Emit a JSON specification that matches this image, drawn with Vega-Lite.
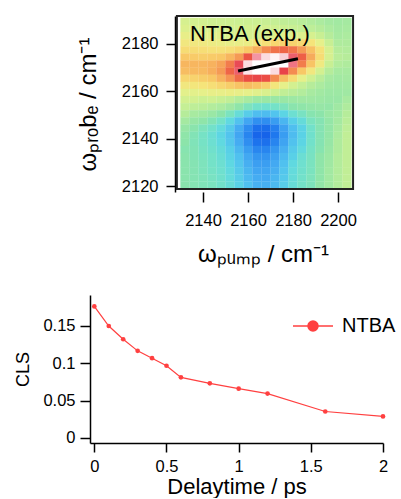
{
"$schema": "https://vega.github.io/schema/vega-lite/v6.json",
"background": "white",
"padding": {"left": 14, "top": 15, "right": 0, "bottom": 0},
"spacing": 28,
"config": {
  "font": "Liberation Sans",
  "view": {"stroke": null},
  "axis": {"grid": false, "labelColor": "black", "titleColor": "black", "tickColor": "black", "domainColor": "black", "labelFont": "Liberation Sans", "titleFont": "Liberation Sans", "titleFontWeight": "normal", "labelFontSize": 16.5, "tickWidth": 1.5, "domainWidth": 1.5, "labelFlush": false}
},
"resolve": {"scale": {"color": "independent"}, "legend": {"color": "independent"}},
"vconcat": [
{
  "width": 265, "height": 176,
  "layer": [
    {
      "data": {"values": [
{"x":2132,"y":2189.5,"z":0.23},{"x":2136,"y":2189.5,"z":0.22},{"x":2140,"y":2189.5,"z":0.22},{"x":2144,"y":2189.5,"z":0.21},{"x":2148,"y":2189.5,"z":0.21},{"x":2152,"y":2189.5,"z":0.21},{"x":2156,"y":2189.5,"z":0.2},{"x":2160,"y":2189.5,"z":0.2},{"x":2164,"y":2189.5,"z":0.2},{"x":2168,"y":2189.5,"z":0.19},{"x":2172,"y":2189.5,"z":0.18},{"x":2176,"y":2189.5,"z":0.17},{"x":2180,"y":2189.5,"z":0.16},{"x":2184,"y":2189.5,"z":0.15},{"x":2188,"y":2189.5,"z":0.13},{"x":2192,"y":2189.5,"z":0.11},{"x":2196,"y":2189.5,"z":0.09},{"x":2200,"y":2189.5,"z":0.08},{"x":2204,"y":2189.5,"z":0.09},
{"x":2132,"y":2186.5,"z":0.25},{"x":2136,"y":2186.5,"z":0.25},{"x":2140,"y":2186.5,"z":0.25},{"x":2144,"y":2186.5,"z":0.24},{"x":2148,"y":2186.5,"z":0.24},{"x":2152,"y":2186.5,"z":0.23},{"x":2156,"y":2186.5,"z":0.22},{"x":2160,"y":2186.5,"z":0.22},{"x":2164,"y":2186.5,"z":0.22},{"x":2168,"y":2186.5,"z":0.22},{"x":2172,"y":2186.5,"z":0.21},{"x":2176,"y":2186.5,"z":0.2},{"x":2180,"y":2186.5,"z":0.19},{"x":2184,"y":2186.5,"z":0.18},{"x":2188,"y":2186.5,"z":0.16},{"x":2192,"y":2186.5,"z":0.14},{"x":2196,"y":2186.5,"z":0.11},{"x":2200,"y":2186.5,"z":0.09},{"x":2204,"y":2186.5,"z":0.1},
{"x":2132,"y":2183.5,"z":0.29},{"x":2136,"y":2183.5,"z":0.29},{"x":2140,"y":2183.5,"z":0.28},{"x":2144,"y":2183.5,"z":0.27},{"x":2148,"y":2183.5,"z":0.26},{"x":2152,"y":2183.5,"z":0.24},{"x":2156,"y":2183.5,"z":0.23},{"x":2160,"y":2183.5,"z":0.23},{"x":2164,"y":2183.5,"z":0.23},{"x":2168,"y":2183.5,"z":0.24},{"x":2172,"y":2183.5,"z":0.25},{"x":2176,"y":2183.5,"z":0.26},{"x":2180,"y":2183.5,"z":0.26},{"x":2184,"y":2183.5,"z":0.25},{"x":2188,"y":2183.5,"z":0.23},{"x":2192,"y":2183.5,"z":0.19},{"x":2196,"y":2183.5,"z":0.14},{"x":2200,"y":2183.5,"z":0.1},{"x":2204,"y":2183.5,"z":0.11},
{"x":2132,"y":2180.5,"z":0.33},{"x":2136,"y":2180.5,"z":0.33},{"x":2140,"y":2180.5,"z":0.32},{"x":2144,"y":2180.5,"z":0.31},{"x":2148,"y":2180.5,"z":0.3},{"x":2152,"y":2180.5,"z":0.29},{"x":2156,"y":2180.5,"z":0.29},{"x":2160,"y":2180.5,"z":0.3},{"x":2164,"y":2180.5,"z":0.33},{"x":2168,"y":2180.5,"z":0.36},{"x":2172,"y":2180.5,"z":0.4},{"x":2176,"y":2180.5,"z":0.41},{"x":2180,"y":2180.5,"z":0.41},{"x":2184,"y":2180.5,"z":0.39},{"x":2188,"y":2180.5,"z":0.35},{"x":2192,"y":2180.5,"z":0.28},{"x":2196,"y":2180.5,"z":0.19},{"x":2200,"y":2180.5,"z":0.12},{"x":2204,"y":2180.5,"z":0.12},
{"x":2132,"y":2177.5,"z":0.38},{"x":2136,"y":2177.5,"z":0.38},{"x":2140,"y":2177.5,"z":0.37},{"x":2144,"y":2177.5,"z":0.36},{"x":2148,"y":2177.5,"z":0.36},{"x":2152,"y":2177.5,"z":0.37},{"x":2156,"y":2177.5,"z":0.4},{"x":2160,"y":2177.5,"z":0.45},{"x":2164,"y":2177.5,"z":0.52},{"x":2168,"y":2177.5,"z":0.6},{"x":2172,"y":2177.5,"z":0.65},{"x":2176,"y":2177.5,"z":0.67},{"x":2180,"y":2177.5,"z":0.64},{"x":2184,"y":2177.5,"z":0.57},{"x":2188,"y":2177.5,"z":0.47},{"x":2192,"y":2177.5,"z":0.36},{"x":2196,"y":2177.5,"z":0.23},{"x":2200,"y":2177.5,"z":0.14},{"x":2204,"y":2177.5,"z":0.13},
{"x":2132,"y":2174.5,"z":0.45},{"x":2136,"y":2174.5,"z":0.44},{"x":2140,"y":2174.5,"z":0.43},{"x":2144,"y":2174.5,"z":0.44},{"x":2148,"y":2174.5,"z":0.45},{"x":2152,"y":2174.5,"z":0.5},{"x":2156,"y":2174.5,"z":0.57},{"x":2160,"y":2174.5,"z":0.7},{"x":2164,"y":2174.5,"z":0.85},{"x":2168,"y":2174.5,"z":0.91},{"x":2172,"y":2174.5,"z":0.93},{"x":2176,"y":2174.5,"z":0.9},{"x":2180,"y":2174.5,"z":0.8},{"x":2184,"y":2174.5,"z":0.68},{"x":2188,"y":2174.5,"z":0.53},{"x":2192,"y":2174.5,"z":0.38},{"x":2196,"y":2174.5,"z":0.23},{"x":2200,"y":2174.5,"z":0.15},{"x":2204,"y":2174.5,"z":0.14},
{"x":2132,"y":2171.5,"z":0.5},{"x":2136,"y":2171.5,"z":0.5},{"x":2140,"y":2171.5,"z":0.5},{"x":2144,"y":2171.5,"z":0.51},{"x":2148,"y":2171.5,"z":0.55},{"x":2152,"y":2171.5,"z":0.63},{"x":2156,"y":2171.5,"z":0.78},{"x":2160,"y":2171.5,"z":0.91},{"x":2164,"y":2171.5,"z":1},{"x":2168,"y":2171.5,"z":1},{"x":2172,"y":2171.5,"z":1},{"x":2176,"y":2171.5,"z":0.96},{"x":2180,"y":2171.5,"z":0.82},{"x":2184,"y":2171.5,"z":0.63},{"x":2188,"y":2171.5,"z":0.46},{"x":2192,"y":2171.5,"z":0.32},{"x":2196,"y":2171.5,"z":0.19},{"x":2200,"y":2171.5,"z":0.13},{"x":2204,"y":2171.5,"z":0.12},
{"x":2132,"y":2168.5,"z":0.48},{"x":2136,"y":2168.5,"z":0.49},{"x":2140,"y":2168.5,"z":0.49},{"x":2144,"y":2168.5,"z":0.52},{"x":2148,"y":2168.5,"z":0.57},{"x":2152,"y":2168.5,"z":0.67},{"x":2156,"y":2168.5,"z":0.8},{"x":2160,"y":2168.5,"z":0.92},{"x":2164,"y":2168.5,"z":0.99},{"x":2168,"y":2168.5,"z":0.99},{"x":2172,"y":2168.5,"z":0.91},{"x":2176,"y":2168.5,"z":0.76},{"x":2180,"y":2168.5,"z":0.6},{"x":2184,"y":2168.5,"z":0.45},{"x":2188,"y":2168.5,"z":0.33},{"x":2192,"y":2168.5,"z":0.22},{"x":2196,"y":2168.5,"z":0.14},{"x":2200,"y":2168.5,"z":0.1},{"x":2204,"y":2168.5,"z":0.1},
{"x":2132,"y":2165.5,"z":0.4},{"x":2136,"y":2165.5,"z":0.41},{"x":2140,"y":2165.5,"z":0.43},{"x":2144,"y":2165.5,"z":0.45},{"x":2148,"y":2165.5,"z":0.51},{"x":2152,"y":2165.5,"z":0.58},{"x":2156,"y":2165.5,"z":0.66},{"x":2160,"y":2165.5,"z":0.72},{"x":2164,"y":2165.5,"z":0.75},{"x":2168,"y":2165.5,"z":0.72},{"x":2172,"y":2165.5,"z":0.6},{"x":2176,"y":2165.5,"z":0.48},{"x":2180,"y":2165.5,"z":0.38},{"x":2184,"y":2165.5,"z":0.28},{"x":2188,"y":2165.5,"z":0.21},{"x":2192,"y":2165.5,"z":0.15},{"x":2196,"y":2165.5,"z":0.1},{"x":2200,"y":2165.5,"z":0.08},{"x":2204,"y":2165.5,"z":0.09},
{"x":2132,"y":2162.5,"z":0.33},{"x":2136,"y":2162.5,"z":0.34},{"x":2140,"y":2162.5,"z":0.35},{"x":2144,"y":2162.5,"z":0.37},{"x":2148,"y":2162.5,"z":0.4},{"x":2152,"y":2162.5,"z":0.43},{"x":2156,"y":2162.5,"z":0.46},{"x":2160,"y":2162.5,"z":0.48},{"x":2164,"y":2162.5,"z":0.46},{"x":2168,"y":2162.5,"z":0.42},{"x":2172,"y":2162.5,"z":0.34},{"x":2176,"y":2162.5,"z":0.28},{"x":2180,"y":2162.5,"z":0.22},{"x":2184,"y":2162.5,"z":0.18},{"x":2188,"y":2162.5,"z":0.14},{"x":2192,"y":2162.5,"z":0.11},{"x":2196,"y":2162.5,"z":0.08},{"x":2200,"y":2162.5,"z":0.07},{"x":2204,"y":2162.5,"z":0.08},
{"x":2132,"y":2159.5,"z":0.27},{"x":2136,"y":2159.5,"z":0.27},{"x":2140,"y":2159.5,"z":0.28},{"x":2144,"y":2159.5,"z":0.29},{"x":2148,"y":2159.5,"z":0.29},{"x":2152,"y":2159.5,"z":0.3},{"x":2156,"y":2159.5,"z":0.29},{"x":2160,"y":2159.5,"z":0.28},{"x":2164,"y":2159.5,"z":0.26},{"x":2168,"y":2159.5,"z":0.24},{"x":2172,"y":2159.5,"z":0.2},{"x":2176,"y":2159.5,"z":0.17},{"x":2180,"y":2159.5,"z":0.15},{"x":2184,"y":2159.5,"z":0.13},{"x":2188,"y":2159.5,"z":0.1},{"x":2192,"y":2159.5,"z":0.08},{"x":2196,"y":2159.5,"z":0.06},{"x":2200,"y":2159.5,"z":0.06},{"x":2204,"y":2159.5,"z":0.07},
{"x":2132,"y":2156.5,"z":0.22},{"x":2136,"y":2156.5,"z":0.22},{"x":2140,"y":2156.5,"z":0.2},{"x":2144,"y":2156.5,"z":0.21},{"x":2148,"y":2156.5,"z":0.19},{"x":2152,"y":2156.5,"z":0.17},{"x":2156,"y":2156.5,"z":0.13},{"x":2160,"y":2156.5,"z":0.1},{"x":2164,"y":2156.5,"z":0.06},{"x":2168,"y":2156.5,"z":0.05},{"x":2172,"y":2156.5,"z":0.05},{"x":2176,"y":2156.5,"z":0.05},{"x":2180,"y":2156.5,"z":0.06},{"x":2184,"y":2156.5,"z":0.07},{"x":2188,"y":2156.5,"z":0.07},{"x":2192,"y":2156.5,"z":0.06},{"x":2196,"y":2156.5,"z":0.05},{"x":2200,"y":2156.5,"z":0.05},{"x":2204,"y":2156.5,"z":0.1},
{"x":2132,"y":2153.5,"z":0.18},{"x":2136,"y":2153.5,"z":0.16},{"x":2140,"y":2153.5,"z":0.15},{"x":2144,"y":2153.5,"z":0.13},{"x":2148,"y":2153.5,"z":0.11},{"x":2152,"y":2153.5,"z":0.07},{"x":2156,"y":2153.5,"z":0.01},{"x":2160,"y":2153.5,"z":-0.06},{"x":2164,"y":2153.5,"z":-0.11},{"x":2168,"y":2153.5,"z":-0.13},{"x":2172,"y":2153.5,"z":-0.1},{"x":2176,"y":2153.5,"z":-0.06},{"x":2180,"y":2153.5,"z":-0.01},{"x":2184,"y":2153.5,"z":0.01},{"x":2188,"y":2153.5,"z":0.03},{"x":2192,"y":2153.5,"z":0.04},{"x":2196,"y":2153.5,"z":0.03},{"x":2200,"y":2153.5,"z":0.07},{"x":2204,"y":2153.5,"z":0.12},
{"x":2132,"y":2150.5,"z":0.14},{"x":2136,"y":2150.5,"z":0.1},{"x":2140,"y":2150.5,"z":0.08},{"x":2144,"y":2150.5,"z":0.05},{"x":2148,"y":2150.5,"z":0},{"x":2152,"y":2150.5,"z":-0.07},{"x":2156,"y":2150.5,"z":-0.17},{"x":2160,"y":2150.5,"z":-0.29},{"x":2164,"y":2150.5,"z":-0.39},{"x":2168,"y":2150.5,"z":-0.4},{"x":2172,"y":2150.5,"z":-0.35},{"x":2176,"y":2150.5,"z":-0.24},{"x":2180,"y":2150.5,"z":-0.14},{"x":2184,"y":2150.5,"z":-0.08},{"x":2188,"y":2150.5,"z":-0.02},{"x":2192,"y":2150.5,"z":0},{"x":2196,"y":2150.5,"z":0.05},{"x":2200,"y":2150.5,"z":0.08},{"x":2204,"y":2150.5,"z":0.14},
{"x":2132,"y":2147.5,"z":0.09},{"x":2136,"y":2147.5,"z":0.04},{"x":2140,"y":2147.5,"z":0.01},{"x":2144,"y":2147.5,"z":-0.04},{"x":2148,"y":2147.5,"z":-0.1},{"x":2152,"y":2147.5,"z":-0.21},{"x":2156,"y":2147.5,"z":-0.36},{"x":2160,"y":2147.5,"z":-0.54},{"x":2164,"y":2147.5,"z":-0.7},{"x":2168,"y":2147.5,"z":-0.71},{"x":2172,"y":2147.5,"z":-0.61},{"x":2176,"y":2147.5,"z":-0.44},{"x":2180,"y":2147.5,"z":-0.28},{"x":2184,"y":2147.5,"z":-0.18},{"x":2188,"y":2147.5,"z":-0.07},{"x":2192,"y":2147.5,"z":-0.03},{"x":2196,"y":2147.5,"z":0.03},{"x":2200,"y":2147.5,"z":0.09},{"x":2204,"y":2147.5,"z":0.15},
{"x":2132,"y":2144.5,"z":0.04},{"x":2136,"y":2144.5,"z":-0.01},{"x":2140,"y":2144.5,"z":-0.06},{"x":2144,"y":2144.5,"z":-0.11},{"x":2148,"y":2144.5,"z":-0.19},{"x":2152,"y":2144.5,"z":-0.31},{"x":2156,"y":2144.5,"z":-0.5},{"x":2160,"y":2144.5,"z":-0.72},{"x":2164,"y":2144.5,"z":-0.9},{"x":2168,"y":2144.5,"z":-0.92},{"x":2172,"y":2144.5,"z":-0.8},{"x":2176,"y":2144.5,"z":-0.57},{"x":2180,"y":2144.5,"z":-0.38},{"x":2184,"y":2144.5,"z":-0.25},{"x":2188,"y":2144.5,"z":-0.11},{"x":2192,"y":2144.5,"z":-0.03},{"x":2196,"y":2144.5,"z":0.03},{"x":2200,"y":2144.5,"z":0.1},{"x":2204,"y":2144.5,"z":0.16},
{"x":2132,"y":2141.5,"z":0.01},{"x":2136,"y":2141.5,"z":-0.04},{"x":2140,"y":2141.5,"z":-0.09},{"x":2144,"y":2141.5,"z":-0.15},{"x":2148,"y":2141.5,"z":-0.23},{"x":2152,"y":2141.5,"z":-0.35},{"x":2156,"y":2141.5,"z":-0.54},{"x":2160,"y":2141.5,"z":-0.77},{"x":2164,"y":2141.5,"z":-0.96},{"x":2168,"y":2141.5,"z":-0.98},{"x":2172,"y":2141.5,"z":-0.85},{"x":2176,"y":2141.5,"z":-0.61},{"x":2180,"y":2141.5,"z":-0.4},{"x":2184,"y":2141.5,"z":-0.26},{"x":2188,"y":2141.5,"z":-0.12},{"x":2192,"y":2141.5,"z":-0.03},{"x":2196,"y":2141.5,"z":0.03},{"x":2200,"y":2141.5,"z":0.11},{"x":2204,"y":2141.5,"z":0.17},
{"x":2132,"y":2138.5,"z":0},{"x":2136,"y":2138.5,"z":-0.05},{"x":2140,"y":2138.5,"z":-0.09},{"x":2144,"y":2138.5,"z":-0.14},{"x":2148,"y":2138.5,"z":-0.21},{"x":2152,"y":2138.5,"z":-0.33},{"x":2156,"y":2138.5,"z":-0.5},{"x":2160,"y":2138.5,"z":-0.71},{"x":2164,"y":2138.5,"z":-0.88},{"x":2168,"y":2138.5,"z":-0.9},{"x":2172,"y":2138.5,"z":-0.77},{"x":2176,"y":2138.5,"z":-0.56},{"x":2180,"y":2138.5,"z":-0.36},{"x":2184,"y":2138.5,"z":-0.24},{"x":2188,"y":2138.5,"z":-0.11},{"x":2192,"y":2138.5,"z":-0.03},{"x":2196,"y":2138.5,"z":0.04},{"x":2200,"y":2138.5,"z":0.12},{"x":2204,"y":2138.5,"z":0.17},
{"x":2132,"y":2135.5,"z":-0.02},{"x":2136,"y":2135.5,"z":-0.04},{"x":2140,"y":2135.5,"z":-0.08},{"x":2144,"y":2135.5,"z":-0.12},{"x":2148,"y":2135.5,"z":-0.18},{"x":2152,"y":2135.5,"z":-0.28},{"x":2156,"y":2135.5,"z":-0.43},{"x":2160,"y":2135.5,"z":-0.61},{"x":2164,"y":2135.5,"z":-0.76},{"x":2168,"y":2135.5,"z":-0.77},{"x":2172,"y":2135.5,"z":-0.66},{"x":2176,"y":2135.5,"z":-0.48},{"x":2180,"y":2135.5,"z":-0.31},{"x":2184,"y":2135.5,"z":-0.2},{"x":2188,"y":2135.5,"z":-0.09},{"x":2192,"y":2135.5,"z":-0.02},{"x":2196,"y":2135.5,"z":0.05},{"x":2200,"y":2135.5,"z":0.12},{"x":2204,"y":2135.5,"z":0.17},
{"x":2132,"y":2132.5,"z":-0.01},{"x":2136,"y":2132.5,"z":-0.04},{"x":2140,"y":2132.5,"z":-0.07},{"x":2144,"y":2132.5,"z":-0.1},{"x":2148,"y":2132.5,"z":-0.16},{"x":2152,"y":2132.5,"z":-0.25},{"x":2156,"y":2132.5,"z":-0.37},{"x":2160,"y":2132.5,"z":-0.53},{"x":2164,"y":2132.5,"z":-0.66},{"x":2168,"y":2132.5,"z":-0.67},{"x":2172,"y":2132.5,"z":-0.58},{"x":2176,"y":2132.5,"z":-0.42},{"x":2180,"y":2132.5,"z":-0.27},{"x":2184,"y":2132.5,"z":-0.15},{"x":2188,"y":2132.5,"z":-0.08},{"x":2192,"y":2132.5,"z":0.01},{"x":2196,"y":2132.5,"z":0.06},{"x":2200,"y":2132.5,"z":0.13},{"x":2204,"y":2132.5,"z":0.17},
{"x":2132,"y":2129.5,"z":-0.01},{"x":2136,"y":2129.5,"z":-0.03},{"x":2140,"y":2129.5,"z":-0.06},{"x":2144,"y":2129.5,"z":-0.1},{"x":2148,"y":2129.5,"z":-0.14},{"x":2152,"y":2129.5,"z":-0.22},{"x":2156,"y":2129.5,"z":-0.34},{"x":2160,"y":2129.5,"z":-0.48},{"x":2164,"y":2129.5,"z":-0.59},{"x":2168,"y":2129.5,"z":-0.6},{"x":2172,"y":2129.5,"z":-0.52},{"x":2176,"y":2129.5,"z":-0.37},{"x":2180,"y":2129.5,"z":-0.21},{"x":2184,"y":2129.5,"z":-0.13},{"x":2188,"y":2129.5,"z":-0.07},{"x":2192,"y":2129.5,"z":0.01},{"x":2196,"y":2129.5,"z":0.07},{"x":2200,"y":2129.5,"z":0.13},{"x":2204,"y":2129.5,"z":0.17},
{"x":2132,"y":2126.5,"z":-0.01},{"x":2136,"y":2126.5,"z":-0.03},{"x":2140,"y":2126.5,"z":-0.06},{"x":2144,"y":2126.5,"z":-0.09},{"x":2148,"y":2126.5,"z":-0.13},{"x":2152,"y":2126.5,"z":-0.2},{"x":2156,"y":2126.5,"z":-0.31},{"x":2160,"y":2126.5,"z":-0.44},{"x":2164,"y":2126.5,"z":-0.54},{"x":2168,"y":2126.5,"z":-0.55},{"x":2172,"y":2126.5,"z":-0.48},{"x":2176,"y":2126.5,"z":-0.34},{"x":2180,"y":2126.5,"z":-0.19},{"x":2184,"y":2126.5,"z":-0.12},{"x":2188,"y":2126.5,"z":-0.07},{"x":2192,"y":2126.5,"z":0.01},{"x":2196,"y":2126.5,"z":0.08},{"x":2200,"y":2126.5,"z":0.13},{"x":2204,"y":2126.5,"z":0.17},
{"x":2132,"y":2123.5,"z":-0.01},{"x":2136,"y":2123.5,"z":-0.03},{"x":2140,"y":2123.5,"z":-0.05},{"x":2144,"y":2123.5,"z":-0.08},{"x":2148,"y":2123.5,"z":-0.12},{"x":2152,"y":2123.5,"z":-0.19},{"x":2156,"y":2123.5,"z":-0.29},{"x":2160,"y":2123.5,"z":-0.41},{"x":2164,"y":2123.5,"z":-0.5},{"x":2168,"y":2123.5,"z":-0.52},{"x":2172,"y":2123.5,"z":-0.44},{"x":2176,"y":2123.5,"z":-0.32},{"x":2180,"y":2123.5,"z":-0.18},{"x":2184,"y":2123.5,"z":-0.11},{"x":2188,"y":2123.5,"z":-0.06},{"x":2192,"y":2123.5,"z":0.01},{"x":2196,"y":2123.5,"z":0.08},{"x":2200,"y":2123.5,"z":0.13},{"x":2204,"y":2123.5,"z":0.17},
{"x":2132,"y":2120.5,"z":-0.01},{"x":2136,"y":2120.5,"z":-0.03},{"x":2140,"y":2120.5,"z":-0.05},{"x":2144,"y":2120.5,"z":-0.07},{"x":2148,"y":2120.5,"z":-0.11},{"x":2152,"y":2120.5,"z":-0.17},{"x":2156,"y":2120.5,"z":-0.26},{"x":2160,"y":2120.5,"z":-0.37},{"x":2164,"y":2120.5,"z":-0.47},{"x":2168,"y":2120.5,"z":-0.48},{"x":2172,"y":2120.5,"z":-0.41},{"x":2176,"y":2120.5,"z":-0.29},{"x":2180,"y":2120.5,"z":-0.17},{"x":2184,"y":2120.5,"z":-0.1},{"x":2188,"y":2120.5,"z":-0.06},{"x":2192,"y":2120.5,"z":0.02},{"x":2196,"y":2120.5,"z":0.08},{"x":2200,"y":2120.5,"z":0.13},{"x":2204,"y":2120.5,"z":0.17}
      ]},
      "mark": {"type": "point", "shape": "M-1,-0.8H1V0.8H-1Z", "size": 85, "filled": true, "opacity": 1, "strokeWidth": 0},
      "encoding": {
        "x": {"field": "x", "type": "quantitative", "scale": {"domain": [2089.78, 2207.56], "nice": false, "zero": false},
              "axis": {"values": [2140, 2160, 2180, 2200], "format": "d", "domain": false, "tickSize": 10, "labelPadding": 10, "title": "ωₚᵤₘₚ / cm⁻¹", "titleFontSize": 24, "titleX": 173, "titlePadding": 14}},
        "y": {"field": "y", "type": "quantitative", "scale": {"domain": [2117.55, 2191.81], "nice": false, "zero": false},
              "axis": {"values": [2120, 2130, 2140, 2150, 2160, 2170, 2180, 2190], "format": "d", "labelExpr": "datum.value % 20 === 0 ? datum.label : ''", "tickSize": {"condition": {"test": "datum.value % 20 === 0", "value": 9}, "value": 5}, "offset": -85, "labelPadding": 8, "title": "ωₚᵣₒbₑ / cm⁻¹", "titleFontSize": 24, "titlePadding": 21}},
        "color": {"field": "z", "type": "quantitative", "legend": null,
                  "scale": {"interpolate": "rgb",
                            "domain": [-1, -0.85, -0.7, -0.5, -0.35, -0.22, -0.1, 0, 0.1, 0.2, 0.28, 0.35, 0.45, 0.55, 0.63, 0.7, 0.77, 0.83, 0.89, 0.94, 1],
                            "range": ["#1560e8", "#1f78ee", "#3090f0", "#45acf2", "#52c4ee", "#5ed8e2", "#74e2c8", "#8ce4aa", "#a8eaa0", "#ccf092", "#e6f08a", "#f5e47a", "#f8c866", "#f6a458", "#f27c4c", "#ec5444", "#e8404a", "#f07e90", "#f8c4cc", "#ffffff", "#ffffff"]}}
      }
    },
    {
      "data": {"values": [{"x1": 2128.4, "x2": 2206.7, "y1": 2118.8, "y2": 2191.8}]},
      "mark": {"type": "rect", "fill": "white", "fillOpacity": 0, "stroke": "#222222", "strokeWidth": 2},
      "encoding": {"x": {"field": "x1", "type": "quantitative"}, "x2": {"field": "x2"}, "y": {"field": "y1", "type": "quantitative"}, "y2": {"field": "y2"}}
    },
    {
      "data": {"values": [{"x": 2155.6, "y": 2168.6}, {"x": 2182.2, "y": 2173.8}]},
      "mark": {"type": "line", "color": "black", "strokeWidth": 3},
      "encoding": {"x": {"field": "x", "type": "quantitative"}, "y": {"field": "y", "type": "quantitative"}}
    },
    {
      "data": {"values": [{"x": 2134.2, "y": 2181.3, "label": "NTBA (exp.)"}]},
      "mark": {"type": "text", "align": "left", "baseline": "alphabetic", "fontSize": 22, "font": "Liberation Sans", "color": "black"},
      "encoding": {"x": {"field": "x", "type": "quantitative"}, "y": {"field": "y", "type": "quantitative"}, "text": {"field": "label"}}
    }
  ]
},
{
  "width": 293, "height": 148,
  "data": {"values": [
    {"t": 0, "cls": 0.1757, "series": "NTBA"},
    {"t": 0.1, "cls": 0.1496, "series": "NTBA"},
    {"t": 0.2, "cls": 0.1319, "series": "NTBA"},
    {"t": 0.3, "cls": 0.1164, "series": "NTBA"},
    {"t": 0.4, "cls": 0.1066, "series": "NTBA"},
    {"t": 0.5, "cls": 0.0965, "series": "NTBA"},
    {"t": 0.6, "cls": 0.081, "series": "NTBA"},
    {"t": 0.8, "cls": 0.073, "series": "NTBA"},
    {"t": 1.0, "cls": 0.0659, "series": "NTBA"},
    {"t": 1.2, "cls": 0.0593, "series": "NTBA"},
    {"t": 1.6, "cls": 0.0354, "series": "NTBA"},
    {"t": 2.0, "cls": 0.0288, "series": "NTBA"}
  ]},
  "layer": [
    {
      "mark": {"type": "line", "strokeWidth": 1.2},
      "encoding": {
        "x": {"field": "t", "type": "quantitative", "scale": {"domain": [-0.03, 2.0], "nice": false, "zero": false},
              "axis": {"values": [0, 0.5, 1, 1.5, 2], "format": "~g", "tickSize": 9, "labelPadding": 6, "title": "Delaytime / ps", "titleFontSize": 22, "titlePadding": 2}},
        "y": {"field": "cls", "type": "quantitative", "scale": {"domain": [-0.0067, 0.191], "nice": false, "zero": false},
              "axis": {"values": [0, 0.05, 0.1, 0.15], "format": "~g", "tickSize": 10, "labelPadding": 5, "title": "CLS", "titleFontSize": 18, "titleX": -58}},
        "color": {"field": "series", "type": "nominal", "scale": {"domain": ["NTBA"], "range": ["#ff4040"]},
                  "legend": {"title": null, "orient": "none", "legendX": 202, "legendY": 10, "symbolType": "M-1,0H1M-0.25,0A0.25,0.25,0,1,1,0.25,0A0.25,0.25,0,1,1,-0.25,0", "symbolSize": 1600, "symbolStrokeWidth": 1.5, "symbolFillColor": "#ff4040", "symbolStrokeColor": "#ff4040", "symbolOpacity": 1, "labelFontSize": 20, "labelFont": "Liberation Sans", "labelColor": "black", "labelOffset": 8}}
      }
    },
    {
      "mark": {"type": "point", "filled": true, "size": 22, "opacity": 1},
      "encoding": {
        "x": {"field": "t", "type": "quantitative"},
        "y": {"field": "cls", "type": "quantitative"},
        "color": {"field": "series", "type": "nominal"}
      }
    }
  ]
}
]
}
